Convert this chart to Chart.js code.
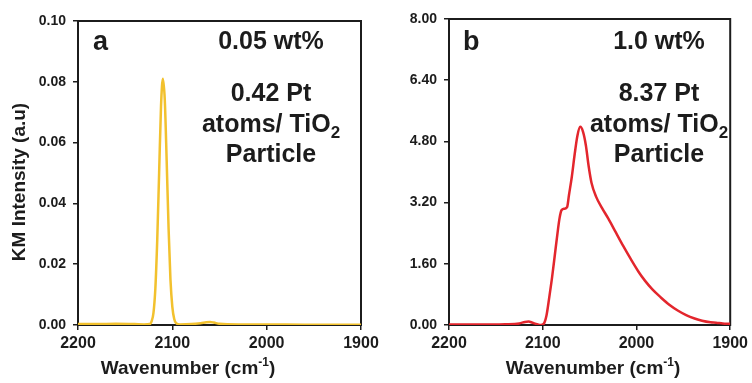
<!DOCTYPE html>
<html>
<head>
<meta charset="utf-8">
<script src="https://cdn.jsdelivr.net/npm/chart.js@4.4.0/dist/chart.umd.min.js"></script>
<style>
  body { margin: 0; background: #fff; width: 752px; height: 383px; position: relative; overflow: hidden; }
  canvas { position: absolute; top: 0; }
  #kmA { left: 0; }
  #kmB { left: 376px; }
</style>
</head>
<body>
<canvas id="kmA" width="390" height="383"></canvas>
<canvas id="kmB" width="376" height="383"></canvas>
<script>
// DRIFTS CO spectra, KM intensity vs wavenumber
const wnA = [2200, 2180, 2160, 2140, 2130, 2124, 2122, 2120, 2118, 2116, 2114, 2112, 2110, 2108, 2106, 2104, 2102, 2100, 2098, 2096, 2092, 2080, 2070, 2064, 2060, 2056, 2050, 2030, 2000, 1960, 1930, 1900];
const kmA = [0.0003, 0.0003, 0.0004, 0.0003, 0.0002, 0.0003, 0.0012, 0.004, 0.012, 0.028, 0.050, 0.072, 0.081, 0.074, 0.054, 0.032, 0.015, 0.006, 0.002, 0.0006, 0.0002, 0.0003, 0.0006, 0.0009, 0.0010, 0.0008, 0.0004, 0.0002, 0.0002, 0.0001, 0.0001, 0.0001];

const wnB = [2200, 2170, 2140, 2125, 2119, 2115, 2111, 2106, 2102, 2099, 2096, 2093, 2090, 2087, 2084, 2082, 2080, 2077, 2074, 2072, 2069, 2066, 2063, 2060, 2057, 2054, 2051, 2048, 2043, 2037, 2030, 2022, 2014, 2006, 1998, 1991, 1983, 1974, 1965, 1956, 1947, 1938, 1930, 1921, 1915, 1908, 1900];
const kmB = [0.01, 0.01, 0.02, 0.04, 0.08, 0.09, 0.06, 0.02, 0.0, 0.03, 0.25, 0.73, 1.25, 1.85, 2.45, 2.8, 3.0, 3.04, 3.08, 3.4, 3.87, 4.45, 4.95, 5.18, 5.05, 4.70, 4.15, 3.72, 3.35, 3.07, 2.78, 2.42, 2.06, 1.72, 1.40, 1.16, 0.93, 0.72, 0.53, 0.38, 0.26, 0.17, 0.11, 0.07, 0.06, 0.04, 0.03];

const xTicks = [2200, 2100, 2000, 1900];
const yTicksA = [0, 0.02, 0.04, 0.06, 0.08, 0.10];
const yTicksB = [0, 1.6, 3.2, 4.8, 6.4, 8.0];

const FONT = "'Liberation Sans', Arial, sans-serif";
const INK = '#1c1c1c';

function toPoints(xs, ys) {
    return xs.map((x, i) => ({ x: x, y: ys[i] }));
}

// box around the plot, drawn under the spectrum line
const frame = {
    id: 'frame',
    beforeDatasetsDraw(chart) {
        const a = chart.chartArea, ctx = chart.ctx;
        ctx.save();
        ctx.strokeStyle = INK;
        ctx.lineWidth = 2;
        ctx.strokeRect(a.left, a.top, a.right - a.left, a.bottom - a.top);
        ctx.restore();
    }
};

// text with a sub/superscript piece: parts = [[text, size, shift], ...]
function drawParts(ctx, parts, cx, y) {
    let w = 0;
    parts.forEach(p => { ctx.font = 'bold ' + p[1] + 'px ' + FONT; w += ctx.measureText(p[0]).width; });
    let x = cx - w / 2;
    parts.forEach(p => {
        ctx.font = 'bold ' + p[1] + 'px ' + FONT;
        ctx.fillText(p[0], x, y + p[2]);
        x += ctx.measureText(p[0]).width;
    });
}

function labels(opts) {
    return {
        id: 'labels',
        afterDraw(chart) {
            const ctx = chart.ctx;
            ctx.save();
            ctx.fillStyle = INK;
            ctx.textBaseline = 'alphabetic';
            ctx.textAlign = 'left';
            ctx.font = 'bold 27px ' + FONT;
            ctx.fillText(opts.letter, opts.letterX, 50);
            const cx = opts.textX;
            drawParts(ctx, [[opts.wt, 25, 0]], cx, 49);
            drawParts(ctx, [[opts.atoms, 25, 0]], cx, 101);
            drawParts(ctx, [['atoms/ TiO', 25, 0], ['2', 17, 6]], cx, 132);
            drawParts(ctx, [['Particle', 25, 0]], cx, 162);
            // x axis title
            drawParts(ctx, [['Wavenumber (cm', 19, 0], ['-1', 12, -8], [')', 19, 0]], opts.xTitleX, 374);
            // y axis title
            if (opts.yTitle) {
                ctx.translate(25, 182);
                ctx.rotate(-Math.PI / 2);
                drawParts(ctx, [[opts.yTitle, 19, 0]], 0, 0);
            }
            ctx.restore();
        }
    };
}

function makeChart(id, pts, color, yTicks, yMax, pad, yWidth, lab) {
    return new Chart(document.getElementById(id), {
        type: 'line',
        data: {
            datasets: [{
                data: pts,
                borderColor: color,
                borderWidth: 2.5,
                pointRadius: 0,
                fill: false,
                cubicInterpolationMode: 'monotone'
            }]
        },
        options: {
            responsive: false,
            animation: false,
            layout: { padding: pad },
            plugins: { legend: { display: false }, tooltip: { enabled: false } },
            scales: {
                x: {
                    type: 'linear',
                    reverse: true,
                    min: 1900,
                    max: 2200,
                    afterFit: s => { s.height = 58; },
                    afterBuildTicks: s => { s.ticks = xTicks.map(v => ({ value: v })); },
                    border: { display: false },
                    grid: { drawOnChartArea: false, drawTicks: true, tickLength: 5, color: INK, lineWidth: 1.5 },
                    ticks: {
                        color: INK,
                        padding: 4,
                        maxRotation: 0,
                        font: { family: FONT, size: 16, weight: 'bold' },
                        callback: v => String(v)
                    }
                },
                y: {
                    min: 0,
                    max: yMax,
                    afterFit: s => { s.width = yWidth; },
                    afterBuildTicks: s => { s.ticks = yTicks.map(v => ({ value: v })); },
                    border: { display: false },
                    grid: { drawOnChartArea: false, drawTicks: true, tickLength: 5, color: INK, lineWidth: 1.5 },
                    ticks: {
                        color: INK,
                        padding: 7,
                        font: { family: FONT, size: 14, weight: 'bold' },
                        callback: v => v.toFixed(2)
                    }
                }
            }
        },
        plugins: [frame, labels(lab)]
    });
}

makeChart('kmA', toPoints(wnA, kmA), '#f2c12e', yTicksA, 0.1,
    { top: 21, right: 29, bottom: 0, left: 0 }, 78,
    { letter: 'a', letterX: 93, textX: 271, wt: '0.05 wt%', atoms: '0.42 Pt', xTitleX: 188, yTitle: 'KM Intensity (a.u)' });

makeChart('kmB', toPoints(wnB, kmB), '#e3262d', yTicksB, 8,
    { top: 19, right: 19, bottom: 0, left: 0 }, 73,
    { letter: 'b', letterX: 87, textX: 283, wt: '1.0 wt%', atoms: '8.37 Pt', xTitleX: 217, yTitle: null });
</script>
</body>
</html>
